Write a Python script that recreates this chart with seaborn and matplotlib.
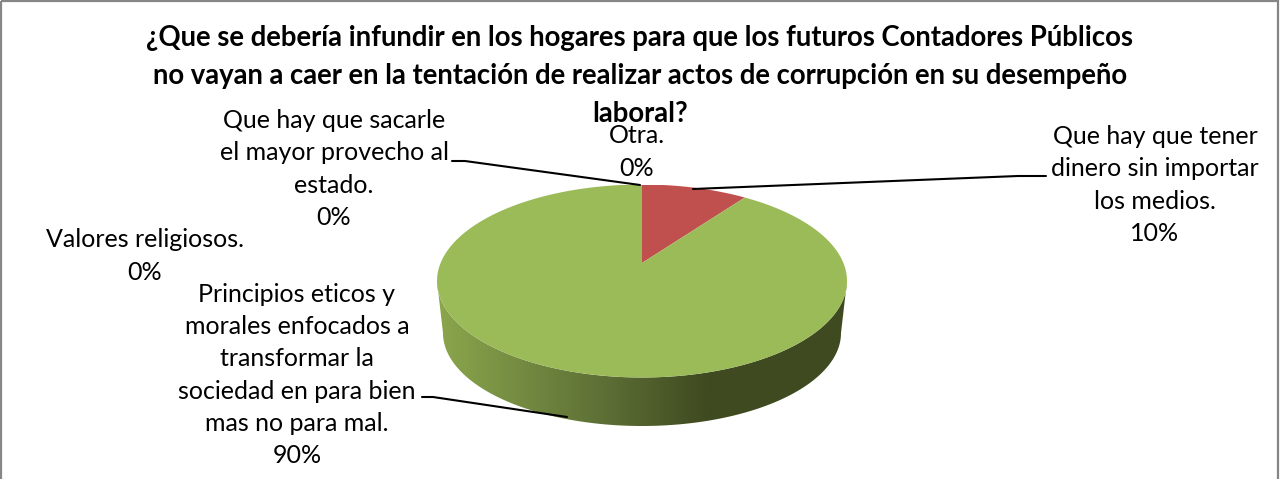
import numpy as np
import matplotlib
matplotlib.use('Agg')
import matplotlib.pyplot as plt
import seaborn as sns
from matplotlib.colors import LinearSegmentedColormap
from matplotlib.patches import Polygon, Rectangle

title = ('¿Que se debería infundir en los hogares para que los futuros Contadores Públicos\n'
         'no vayan a caer en la tentación de realizar actos de corrupción en su desempeño\n'
         'laboral?')
# clockwise from 12 o'clock
categories = ['Que hay que tener\ndinero sin importar\nlos medios.',
              'Principios eticos y\nmorales enfocados a\ntransformar la\nsociedad en para bien\nmas no para mal.',
              'Valores religiosos.',
              'Que hay que sacarle\nel mayor provecho al\nestado.',
              'Otra.']
values = [10, 90, 0, 0, 0]
slice_colors = ['#C0504D', '#9BBB59', '#8064A2', '#4BACC6', '#F79646']
side_colors = ['#8BA64C', '#7A9244', '#5E7036', '#3F4A20', '#3F4A20']

sns.set_theme(style='white')
plt.rcParams['font.family'] = ['Lato', 'DejaVu Sans']

W, H = 1280, 479
fig = plt.figure(figsize=(W / 100, H / 100), dpi=100, facecolor='white')


def px_axes(zorder):
    a = fig.add_axes([0, 0, 1, 1], zorder=zorder)
    a.set_xlim(0, W)
    a.set_ylim(H, 0)
    a.axis('off')
    return a


# ellipse of the top face in pixels
cx, cy, rx, ry = 642, 281, 205, 96.5
bot_cy, bot_rx, bot_ry = 333, 199, 93
tilt = 0.187  # pulls the pie centre up like the 3d perspective does

# side of the disc, behind everything
ax_side = px_axes(1)
t = np.linspace(np.pi, 0, 200)
top_edge = np.column_stack([cx + rx * np.cos(t), cy + ry * np.sin(t)])
bot_edge = np.column_stack([cx + bot_rx * np.cos(t[::-1]), bot_cy + bot_ry * np.sin(t[::-1])])
side = Polygon(np.vstack([top_edge, bot_edge]), closed=True, transform=ax_side.transData,
               facecolor='none', edgecolor='none')
ax_side.add_patch(side)
cmap = LinearSegmentedColormap.from_list(
    'side', list(zip([0, 0.15, 0.4, 0.66, 1], side_colors)))
im = ax_side.imshow(np.linspace(0, 1, 256).reshape(1, -1), cmap=cmap, aspect='auto',
                    extent=[cx - rx, cx + rx, 430, 280])
im.set_clip_path(side)
ax_side.set_xlim(0, W)
ax_side.set_ylim(H, 0)

# top face
ax_pie = fig.add_axes([(cx - rx) / W, 1 - (cy + ry) / H, 2 * rx / W, 2 * ry / H], zorder=2)
wedges, _ = ax_pie.pie(values, colors=sns.color_palette(slice_colors), startangle=90,
                       counterclock=False, radius=1)
ax_pie.set_aspect('auto')
ax_pie.set_xlim(-1, 1)
ax_pie.set_ylim(-1, 1)
ax_pie.patch.set_visible(False)
for w in wedges:
    if w.theta1 == w.theta2:
        continue
    ang = np.radians(np.linspace(w.theta1, w.theta2, 300))
    xy = np.vstack([[0, 0], np.column_stack([np.cos(ang), np.sin(ang)])])
    den = 1 + tilt * xy[:, 1]
    warped = np.column_stack([xy[:, 0] * np.sqrt(1 - tilt ** 2) / den, (xy[:, 1] + tilt) / den])
    ax_pie.add_patch(Polygon(warped, closed=True, facecolor=w.get_facecolor(), edgecolor='none'))
    w.set_visible(False)

# text and leaders on top
ax = px_axes(3)
ax.patch.set_visible(False)
ax.add_patch(Rectangle((0.8, 0.8), W - 2.6, H + 5, fill=False, edgecolor='#868686', linewidth=1.6))

ax.text(640, 76, title, ha='center', va='center', fontsize=19.85, fontweight='bold',
        color='black', linespacing=1.58)

label_pos = [(1155, 185), (297, 375), (145, 256), (334, 169), (637, 152)]
for name, v, (lx, ly) in zip(categories, values, label_pos):
    ax.text(lx, ly, f'{name}\n{v}%', ha='center', va='center', fontsize=18,
            color='black', linespacing=1.49)

leader_x = [[1046, 1018, 693], [422, 433, 567], [452, 465, 640]]
leader_y = [[176, 176, 189], [397, 397, 417], [161, 161, 185]]
for lx, ly in zip(leader_x, leader_y):
    ax.plot(lx, ly, color='black', linewidth=1.5, solid_joinstyle='round')

fig.savefig('out.png', dpi=100)
